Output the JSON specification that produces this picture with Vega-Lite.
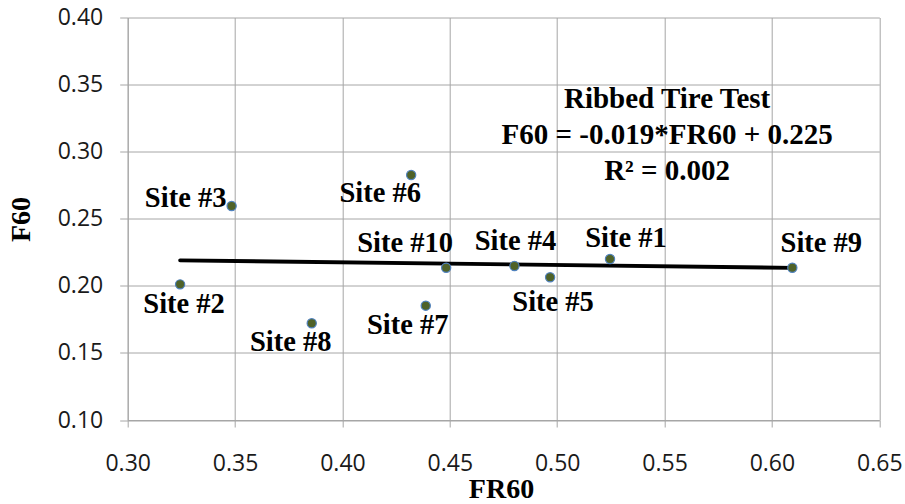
{
  "$schema": "https://vega.github.io/schema/vega-lite/v6.json",
  "width": 751.6,
  "height": 402.5,
  "autosize": {"type": "none"},
  "padding": {"left": 127.7, "top": 17.5, "right": 25.7, "bottom": 84},
  "background": "white",
  "config": {
    "view": {"stroke": null},
    "axis": {
      "grid": true,
      "gridColor": "#A6A6A6",
      "gridWidth": 1,
      "domainColor": "#A6A6A6",
      "domainWidth": 1,
      "tickColor": "#A6A6A6",
      "tickWidth": 1,
      "labelFont": "Open Sans",
      "labelFontSize": 23,
      "labelColor": "#1a1a1a",
      "labelFlush": false,
      "labelOverlap": false,
      "titleFont": "Liberation Serif",
      "titleFontWeight": "bold",
      "titleFontSize": 28,
      "titleColor": "black"
    }
  },
  "datasets": {
    "sites": [
      {"site": "Site #1", "FR60": 0.5246, "F60": 0.2200},
      {"site": "Site #2", "FR60": 0.3244, "F60": 0.2011},
      {"site": "Site #3", "FR60": 0.3484, "F60": 0.2595},
      {"site": "Site #4", "FR60": 0.4801, "F60": 0.2148},
      {"site": "Site #5", "FR60": 0.4967, "F60": 0.2064},
      {"site": "Site #6", "FR60": 0.4320, "F60": 0.2826},
      {"site": "Site #7", "FR60": 0.4388, "F60": 0.1852},
      {"site": "Site #8", "FR60": 0.3857, "F60": 0.1721},
      {"site": "Site #9", "FR60": 0.6095, "F60": 0.2135},
      {"site": "Site #10", "FR60": 0.4483, "F60": 0.2135}
    ],
    "trend": [
      {"FR60": 0.3244, "F60": 0.2190},
      {"FR60": 0.6095, "F60": 0.2134}
    ]
  },
  "data": {"name": "sites"},
  "layer": [
    {
      "data": {"name": "trend"},
      "mark": {"type": "line", "color": "black", "strokeWidth": 3.8, "strokeCap": "round"},
      "encoding": {
        "x": {
          "field": "FR60", "type": "quantitative",
          "scale": {"domain": [0.3, 0.65], "nice": false, "zero": false},
          "axis": {
            "values": [0.3, 0.35, 0.4, 0.45, 0.5, 0.55, 0.6, 0.65],
            "format": ".2f",
            "tickSize": 7,
            "labelPadding": 25,
            "title": "FR60",
            "titleX": 373.3,
            "titleY": 77,
            "titleAlign": "center",
            "titleBaseline": "alphabetic"
          }
        },
        "y": {
          "field": "F60", "type": "quantitative",
          "scale": {"domain": [0.1, 0.4], "nice": false, "zero": false},
          "axis": {
            "values": [0.1, 0.15, 0.2, 0.25, 0.3, 0.35, 0.4],
            "format": ".2f",
            "tickSize": 8,
            "labelPadding": 17,
            "title": "F60",
            "titleAngle": -90,
            "titleX": -106,
            "titleY": 201.5,
            "titleAlign": "center",
            "titleBaseline": "middle"
          }
        }
      }
    },
    {
      "mark": {"type": "circle", "size": 85, "fill": "#4F6228", "stroke": "#4F81BD", "strokeWidth": 1.2, "opacity": 1},
      "encoding": {
        "x": {"field": "FR60", "type": "quantitative"},
        "y": {"field": "F60", "type": "quantitative"}
      }
    },
    {
      "transform": [{"filter": "datum.site === 'Site #1'"}],
      "mark": {"type": "text", "font": "Liberation Serif", "fontWeight": "bold", "fontSize": 28.5, "align": "center", "baseline": "middle", "color": "black", "dx": 16, "dy": -21.5},
      "encoding": {"x": {"field": "FR60", "type": "quantitative"}, "y": {"field": "F60", "type": "quantitative"}, "text": {"field": "site"}}
    },
    {
      "transform": [{"filter": "datum.site === 'Site #2'"}],
      "mark": {"type": "text", "font": "Liberation Serif", "fontWeight": "bold", "fontSize": 28.5, "align": "center", "baseline": "middle", "color": "black", "dx": 4, "dy": 20},
      "encoding": {"x": {"field": "FR60", "type": "quantitative"}, "y": {"field": "F60", "type": "quantitative"}, "text": {"field": "site"}}
    },
    {
      "transform": [{"filter": "datum.site === 'Site #3'"}],
      "mark": {"type": "text", "font": "Liberation Serif", "fontWeight": "bold", "fontSize": 28.5, "align": "center", "baseline": "middle", "color": "black", "dx": -46, "dy": -8},
      "encoding": {"x": {"field": "FR60", "type": "quantitative"}, "y": {"field": "F60", "type": "quantitative"}, "text": {"field": "site"}}
    },
    {
      "transform": [{"filter": "datum.site === 'Site #4'"}],
      "mark": {"type": "text", "font": "Liberation Serif", "fontWeight": "bold", "fontSize": 28.5, "align": "center", "baseline": "middle", "color": "black", "dx": 1, "dy": -25},
      "encoding": {"x": {"field": "FR60", "type": "quantitative"}, "y": {"field": "F60", "type": "quantitative"}, "text": {"field": "site"}}
    },
    {
      "transform": [{"filter": "datum.site === 'Site #5'"}],
      "mark": {"type": "text", "font": "Liberation Serif", "fontWeight": "bold", "fontSize": 28.5, "align": "center", "baseline": "middle", "color": "black", "dx": 3, "dy": 25},
      "encoding": {"x": {"field": "FR60", "type": "quantitative"}, "y": {"field": "F60", "type": "quantitative"}, "text": {"field": "site"}}
    },
    {
      "transform": [{"filter": "datum.site === 'Site #6'"}],
      "mark": {"type": "text", "font": "Liberation Serif", "fontWeight": "bold", "fontSize": 28.5, "align": "center", "baseline": "middle", "color": "black", "dx": -31, "dy": 17.5},
      "encoding": {"x": {"field": "FR60", "type": "quantitative"}, "y": {"field": "F60", "type": "quantitative"}, "text": {"field": "site"}}
    },
    {
      "transform": [{"filter": "datum.site === 'Site #7'"}],
      "mark": {"type": "text", "font": "Liberation Serif", "fontWeight": "bold", "fontSize": 28.5, "align": "center", "baseline": "middle", "color": "black", "dx": -18, "dy": 19},
      "encoding": {"x": {"field": "FR60", "type": "quantitative"}, "y": {"field": "F60", "type": "quantitative"}, "text": {"field": "site"}}
    },
    {
      "transform": [{"filter": "datum.site === 'Site #8'"}],
      "mark": {"type": "text", "font": "Liberation Serif", "fontWeight": "bold", "fontSize": 28.5, "align": "center", "baseline": "middle", "color": "black", "dx": -21, "dy": 19},
      "encoding": {"x": {"field": "FR60", "type": "quantitative"}, "y": {"field": "F60", "type": "quantitative"}, "text": {"field": "site"}}
    },
    {
      "transform": [{"filter": "datum.site === 'Site #9'"}],
      "mark": {"type": "text", "font": "Liberation Serif", "fontWeight": "bold", "fontSize": 28.5, "align": "center", "baseline": "middle", "color": "black", "dx": 29, "dy": -25},
      "encoding": {"x": {"field": "FR60", "type": "quantitative"}, "y": {"field": "F60", "type": "quantitative"}, "text": {"field": "site"}}
    },
    {
      "transform": [{"filter": "datum.site === 'Site #10'"}],
      "mark": {"type": "text", "font": "Liberation Serif", "fontWeight": "bold", "fontSize": 28.5, "align": "center", "baseline": "middle", "color": "black", "dx": -41, "dy": -25},
      "encoding": {"x": {"field": "FR60", "type": "quantitative"}, "y": {"field": "F60", "type": "quantitative"}, "text": {"field": "site"}}
    },
    {
      "data": {"values": [{"note": "regression"}]},
      "mark": {
        "type": "text", "font": "Liberation Serif", "fontWeight": "bold", "fontSize": 29,
        "align": "center", "baseline": "middle", "lineHeight": 36, "color": "black",
        "text": ["Ribbed Tire Test", "F60 = -0.019*FR60 + 0.225", "R² = 0.002"]
      },
      "encoding": {
        "x": {"datum": 0.5512, "type": "quantitative"},
        "y": {"datum": 0.339, "type": "quantitative"}
      }
    }
  ]
}
